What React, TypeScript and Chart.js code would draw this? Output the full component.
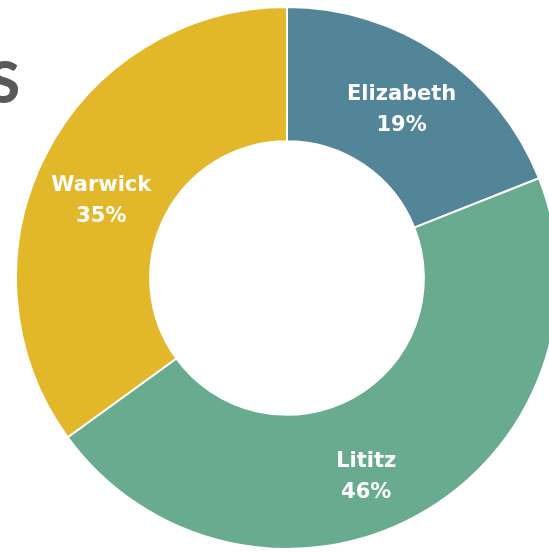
import React, { useEffect, useRef } from "react";
import { Chart, registerables } from "chart.js";

Chart.register(...registerables);

const categories = ["Elizabeth", "Lititz", "Warwick"];
const shares = [19, 46, 35];
const colors = ["#538599", "#68ab8f", "#e3b72a"];
// label nudges (px) relative to arc centroid
const labelNudges = [
  [0, 0],
  [-19, 20],
  [-4, 15],
];

const labelPlugin = {
  id: "sliceLabels",
  afterDatasetsDraw(chart: any) {
    const ctx = chart.ctx;
    const meta = chart.getDatasetMeta(0);
    ctx.save();
    ctx.fillStyle = "#ffffff";
    ctx.textAlign = "center";
    ctx.textBaseline = "middle";
    ctx.font = "bold 21px 'DejaVu Sans'";
    meta.data.forEach((arc: any, i: number) => {
      const p = arc.tooltipPosition();
      const x = p.x + labelNudges[i][0];
      const y = p.y + labelNudges[i][1];
      ctx.fillText(categories[i], x, y - 15);
      ctx.fillText(shares[i] + "%", x, y + 16);
    });
    ctx.restore();
  },
};

export default function App() {
  const ref = useRef<HTMLCanvasElement>(null);
  useEffect(() => {
    if (!ref.current) return;
    const chart = new Chart(ref.current, {
      type: "doughnut",
      data: {
        labels: categories,
        datasets: [
          {
            data: shares,
            backgroundColor: colors,
            borderColor: "#ffffff",
            borderWidth: 2,
          },
        ],
      },
      options: {
        responsive: false,
        animation: false,
        cutout: "50.5%",
        layout: { padding: 0 },
        plugins: {
          legend: { display: false },
          tooltip: { enabled: false },
        },
      },
      plugins: [labelPlugin],
    });
    return () => chart.destroy();
  }, []);

  return (
    <div
      style={{
        position: "fixed",
        left: 0,
        top: 0,
        width: 549,
        height: 552,
        overflow: "hidden",
        background: "#ffffff",
      }}
    >
      <div
        style={{
          position: "absolute",
          left: -12,
          top: 46,
          fontFamily: "Lato, sans-serif",
          fontWeight: 900,
          fontSize: 58,
          lineHeight: "70px",
          color: "#595959",
        }}
      >
        S
      </div>
      <canvas
        ref={ref}
        width={544}
        height={544}
        style={{ position: "absolute", left: 15, top: 6, width: 544, height: 544 }}
      />
    </div>
  );
}
